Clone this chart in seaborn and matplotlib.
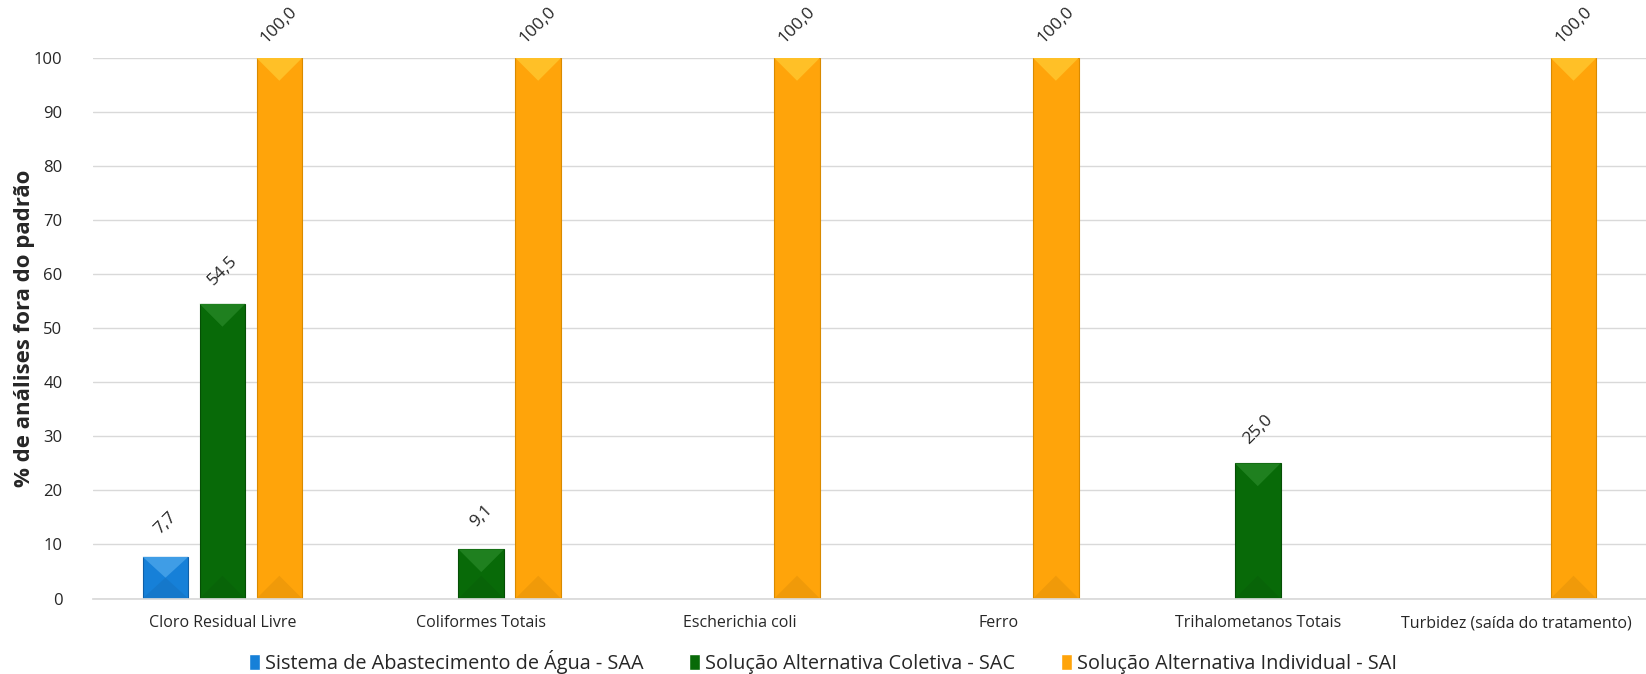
import pandas as pd
import numpy as np
import seaborn as sns
import matplotlib.pyplot as plt
from matplotlib.patches import Polygon
from matplotlib.colors import to_rgb

# Values (None = no bar)
parametros = [
    "Cloro Residual Livre",
    "Coliformes Totais",
    "Escherichia coli",
    "Ferro",
    "Trihalometanos Totais",
    "Turbidez (saída do tratamento)",
]
saa = [7.7, None, None, None, None, None]
sac = [54.5, 9.1, None, None, 25.0, None]
sai = [100.0, 100.0, 100.0, 100.0, None, 100.0]

series = [
    "Sistema de Abastecimento de Água - SAA",
    "Solução Alternativa Coletiva - SAC",
    "Solução Alternativa Individual - SAI",
]
cores = ["#1680D8", "#086A08", "#FFA40A"]
bordas = ["#0E5FA8", "#054F05", "#D98A00"]
brilho = ["#5AB0F0", "#2E8E2E", "#FFD23A"]

df = pd.DataFrame({
    "parametro": parametros * 3,
    "serie": [series[0]] * 6 + [series[1]] * 6 + [series[2]] * 6,
    "valor": saa + sac + sai,
})
df["valor"] = df["valor"].astype(float)

sns.set_theme(style="white")
plt.rcParams["font.family"] = ["Open Sans", "DejaVu Sans"]

fig = plt.figure(figsize=(16.46, 6.74), dpi=100)
ax = fig.add_axes([0.0565, 0.112, 0.9435, 0.802])

sns.barplot(
    data=df, x="parametro", y="valor", hue="serie",
    order=parametros, hue_order=series,
    palette=dict(zip(series, cores)), saturation=1,
    width=0.66, gap=0.2, ax=ax, legend=True,
)

ax.set_ylim(0, 100)
ax.set_xlim(-0.5, len(parametros) - 0.5)


def mix(c, alvo, t):
    c = np.array(to_rgb(c))
    return tuple(c + (np.array(to_rgb(alvo)) - c) * t)


# bevel look: lighter triangle on top, darker one at the base
for cont, cor, borda, luz in zip(ax.containers, cores, bordas, brilho):
    for p in cont:
        p.set_edgecolor(borda)
        p.set_linewidth(0.8)
        h = p.get_height()
        if np.isnan(h) or h <= 0:
            continue
        x0, w = p.get_x(), p.get_width()
        # half bar width expressed in y data units
        px_w = ax.transData.transform((x0 + w, 0))[0] - ax.transData.transform((x0, 0))[0]
        px_y = ax.transData.transform((0, 1))[1] - ax.transData.transform((0, 0))[1]
        d = min(px_w / 2 / px_y, h / 2)
        ax.add_patch(Polygon([(x0, h), (x0 + w, h), (x0 + w / 2, h - d)],
                             closed=True, facecolor=mix(cor, luz, 0.6),
                             edgecolor="none", zorder=p.get_zorder() + 0.1))
        ax.add_patch(Polygon([(x0, 0), (x0 + w, 0), (x0 + w / 2, d)],
                             closed=True, facecolor=mix(cor, "black", 0.06),
                             edgecolor="none", zorder=p.get_zorder() + 0.1))
        ax.annotate(
            f"{h:.1f}".replace(".", ","),
            xy=(x0 + w / 2, h),
            xytext=(0, 24), textcoords="offset points",
            ha="center", va="center", rotation=45,
            fontsize=12.5, annotation_clip=False,
        )

ax.set_yticks(range(0, 101, 10))
ax.yaxis.grid(True, color="#D9D9D9", linewidth=1)
ax.set_axisbelow(True)
for s in ["top", "right", "left"]:
    ax.spines[s].set_visible(False)
ax.spines["bottom"].set_color("#D9D9D9")
ax.tick_params(axis="y", labelsize=12, length=0, pad=22)
ax.tick_params(axis="x", labelsize=11.5, length=0, pad=12)
ax.set_xlabel("")
ax.set_ylabel("% de análises fora do padrão", fontsize=16, fontweight="bold", labelpad=-1)

ax.legend(
    loc="center", bbox_to_anchor=(0.5, 0.018), bbox_transform=fig.transFigure,
    ncol=3, frameon=False, fontsize=14.3, handlelength=0.55, handleheight=0.9,
    handletextpad=0.25, columnspacing=2.3, borderpad=0,
)

fig.savefig("out.png", dpi=100)
